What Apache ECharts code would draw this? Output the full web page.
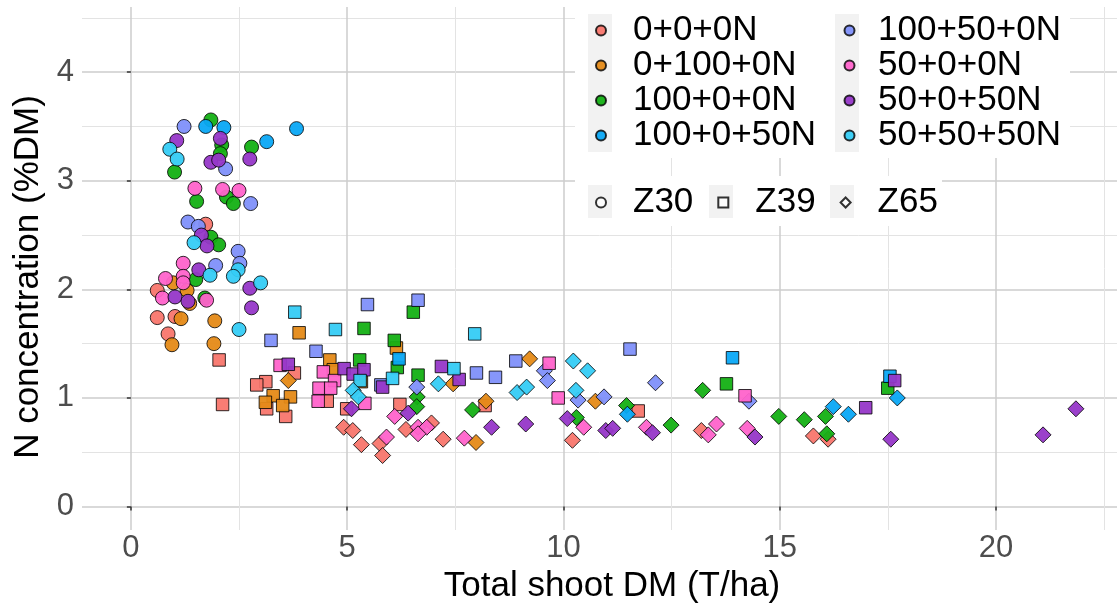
<!DOCTYPE html>
<html><head><meta charset="utf-8">
<script src="https://cdn.jsdelivr.net/npm/echarts@6/dist/echarts.min.js"></script>
<style>html,body{margin:0;padding:0;background:#fff}#c{width:1117px;height:609px}</style>
</head><body><div id="c"></div>
<script>
// ---------- data ----------
const groups = ['0+0+0N','0+100+0N','100+0+0N','100+0+50N','100+50+0N','50+0+0N','50+0+50N','50+50+50N'];
const stages = ['Z30','Z39','Z65'];
const xTicks = [0,5,10,15,20];
const xMinor = [2.5,7.5,12.5,17.5,22.5];
const yTicks = [0,1,2,3,4];
const yMinor = [0.5,1.5,2.5,3.5,4.5];

// 0+0+0N
const s1_z30 = [[1.73,2.60],[0.61,1.99],[0.61,1.74],[1.02,1.75],[0.86,1.59]];
const s1_z39 = [[2.04,1.35],[3.78,1.23],[3.12,1.15],[2.91,1.12],[3.14,0.90],[3.58,0.83],[2.12,0.94],[4.54,0.97],[4.99,0.90],[6.22,0.94],[8.19,0.93],[11.73,0.88]];
const s1_z65 = [[4.92,0.73],[5.13,0.70],[6.36,0.71],[6.95,0.77],[5.76,0.58],[5.33,0.57],[5.82,0.47],[7.22,0.62],[10.21,0.61],[13.19,0.70],[15.78,0.65],[16.12,0.62]];
// 0+100+0N
const s2_z30 = [[0.98,2.06],[1.30,1.99],[1.36,1.87],[1.16,1.73],[1.94,1.71],[0.95,1.49],[1.92,1.50]];
const s2_z39 = [[3.89,1.60],[6.14,1.46],[4.60,1.35],[4.68,1.26],[3.29,1.02],[3.69,1.01],[3.11,0.96],[3.51,0.93],[5.33,1.15]];
const s2_z65 = [[3.64,1.16],[7.45,1.13],[9.22,1.36],[8.21,0.97],[10.74,0.97],[7.98,0.59]];
// 100+0+0N
const s3_z30 = [[1.85,3.56],[2.10,3.33],[2.07,3.25],[1.01,3.08],[2.79,3.31],[1.52,2.81],[2.21,2.85],[2.37,2.79],[1.85,2.48],[2.03,2.41],[1.50,2.09],[1.71,1.92]];
const s3_z39 = [[6.53,1.79],[5.39,1.64],[6.09,1.53],[5.29,1.35],[6.16,1.28],[6.64,1.21],[13.77,1.13],[17.50,1.09]];
const s3_z65 = [[6.62,1.01],[6.61,0.92],[7.90,0.89],[10.30,0.82],[11.46,0.93],[12.49,0.75],[13.22,1.07],[14.98,0.83],[15.57,0.80],[16.06,0.83],[16.09,0.67]];
// 100+0+50N
const s4_z30 = [[1.73,3.50],[2.15,3.49],[3.14,3.36],[3.83,3.48]];
const s4_z39 = [[6.20,1.36],[13.91,1.37],[17.55,1.20]];
const s4_z65 = [[11.48,0.85],[16.24,0.92],[16.59,0.85],[17.72,1.00]];
// 100+50+0N
const s5_z30 = [[1.23,3.50],[2.19,3.11],[2.77,2.79],[1.32,2.62],[1.56,2.58],[2.48,2.35],[2.52,2.24],[1.96,2.22]];
const s5_z39 = [[5.47,1.86],[6.64,1.90],[3.24,1.53],[4.28,1.43],[7.99,1.23],[8.43,1.19],[8.90,1.34],[11.54,1.45],[5.78,1.12]];
const s5_z65 = [[6.61,1.10],[9.56,1.25],[9.63,1.16],[10.34,0.98],[10.94,1.01],[12.13,1.14],[14.29,0.97]];
// 50+0+0N
const s6_z30 = [[1.48,2.93],[2.12,2.92],[2.50,2.91],[1.21,2.24],[1.21,2.12],[1.21,2.06],[0.80,2.10],[0.73,1.92],[1.75,1.90]];
const s6_z39 = [[3.45,1.30],[4.45,1.24],[4.71,1.16],[4.35,1.09],[4.62,1.09],[4.33,0.97],[5.41,0.95],[9.67,1.32],[9.88,1.00],[14.20,1.02]];
const s6_z65 = [[6.10,0.83],[6.64,0.73],[6.84,0.73],[6.64,0.67],[5.91,0.64],[7.71,0.63],[10.47,0.73],[11.92,0.73],[13.35,0.66],[13.54,0.76],[14.25,0.72]];
// 50+0+50N
const s7_z30 = [[1.06,3.37],[2.07,3.39],[1.85,3.17],[2.03,3.19],[2.75,3.20],[1.63,2.50],[1.76,2.40],[1.57,2.18],[1.02,1.93],[1.32,1.89],[2.75,2.01],[2.79,1.83]];
const s7_z39 = [[7.18,1.29],[3.64,1.31],[4.93,1.27],[5.14,1.22],[5.39,1.26],[5.82,1.10],[7.59,1.17],[16.99,0.91],[17.66,1.16]];
const s7_z65 = [[5.10,0.90],[6.41,0.86],[8.34,0.73],[9.13,0.76],[10.09,0.81],[10.98,0.70],[11.14,0.72],[12.06,0.68],[14.43,0.64],[17.57,0.62],[21.09,0.66],[21.85,0.90]];
// 50+50+50N
const s8_z30 = [[0.90,3.29],[1.07,3.20],[1.46,2.43],[2.48,2.18],[2.37,2.12],[1.83,2.13],[3.00,2.06],[2.50,1.63]];
const s8_z39 = [[3.79,1.79],[4.73,1.63],[6.05,1.18],[7.95,1.59],[7.47,1.27],[5.30,1.16]];
const s8_z65 = [[7.11,1.13],[5.14,1.07],[5.26,1.01],[8.93,1.05],[9.15,1.10],[10.23,1.34],[10.56,1.25],[10.29,1.07]];

// ---------- styles ----------
const colors = ['#F8766D','#E58A17','#14B014','#0AA8F5','#8090FA','#FF63CB','#9637C8','#35CCF5'];
const groupData = [
  [s1_z30,s1_z39,s1_z65],[s2_z30,s2_z39,s2_z65],[s3_z30,s3_z39,s3_z65],[s4_z30,s4_z39,s4_z65],
  [s5_z30,s5_z39,s5_z65],[s6_z30,s6_z39,s6_z65],[s7_z30,s7_z39,s7_z65],[s8_z30,s8_z39,s8_z65]
];
const stageSymbol = ['circle','rect','diamond'];
const stageSize = [14, 12.5, 16];
const FONT = 'Liberation Sans, Arial, sans-serif';

const series = groups.map((g, gi) => ({
  type: 'scatter', name: g, xAxisIndex: 0, yAxisIndex: 0, z: 2,
  itemStyle: { color: colors[gi], borderColor: 'rgba(0,0,0,0.85)', borderWidth: 1, opacity: 0.95 },
  data: groupData[gi].flatMap((arr, si) => arr.map(p => ({ value: p, symbol: stageSymbol[si], symbolSize: stageSize[si] })))
}));
stages.forEach((s, si) => series.push({
  type: 'scatter', name: s, data: [], symbol: stageSymbol[si],
  itemStyle: { color: '#fff', borderColor: '#000', borderWidth: 1 }
}));

const legendText = (pad) => ({ fontSize: 35, fontFamily: FONT, color: '#000', lineHeight: 34, padding: [0,0,0,pad] });

const option = {
  animation: false,
  backgroundColor: '#fff',
  grid: { left: 82, right: 0, top: 7, bottom: 79, containLabel: false, outerBoundsMode: 'none' },
  xAxis: [
    { type: 'value', min: -1.13, max: 22.8, position: 'bottom',
      axisLine: { show: false }, axisLabel: { show: false },
      axisTick: { show: false, customValues: xMinor },
      splitLine: { show: true, lineStyle: { color: '#e3e3e3', width: 1 } } },
    { type: 'value', min: -1.13, max: 22.8, position: 'bottom',
      axisLine: { show: false },
      axisTick: { show: true, length: 4, lineStyle: { color: '#333', width: 1.5 }, customValues: xTicks },
      axisLabel: { show: true, customValues: xTicks, fontSize: 31, fontFamily: FONT, color: '#4d4d4d', margin: 3 },
      splitLine: { show: true, lineStyle: { color: '#cccccc', width: 1.5 } },
      name: 'Total shoot DM (T/ha)', nameLocation: 'middle', nameGap: 30,
      nameTextStyle: { fontSize: 35, fontFamily: FONT, color: '#000', padding: [0,0,0,25] } }
  ],
  yAxis: [
    { type: 'value', min: -0.216, max: 4.6, position: 'left',
      axisLine: { show: false }, axisLabel: { show: false },
      axisTick: { show: false, customValues: yMinor },
      splitLine: { show: true, lineStyle: { color: '#e3e3e3', width: 1 } } },
    { type: 'value', min: -0.216, max: 4.6, position: 'left',
      axisLine: { show: false },
      axisTick: { show: true, length: 4, lineStyle: { color: '#333', width: 1.5 }, customValues: yTicks },
      axisLabel: { show: true, customValues: yTicks, fontSize: 31, fontFamily: FONT, color: '#4d4d4d', margin: 8 },
      splitLine: { show: true, lineStyle: { color: '#cccccc', width: 1.5 } },
      name: 'N concentration (%DM)', nameLocation: 'middle', nameGap: 30,
      nameTextStyle: { fontSize: 35, fontFamily: FONT, color: '#000', padding: [0,17,0,0] } }
  ],
  legend: [
    { data: groups.slice(0,4), orient: 'vertical', left: 595, top: 13, padding: 0, itemGap: 0,
      itemWidth: 10, itemHeight: 10, icon: 'circle', selectedMode: false, z: 5, textStyle: legendText(22) },
    { data: groups.slice(4), orient: 'vertical', left: 843.5, top: 13, padding: 0, itemGap: 0,
      itemWidth: 10, itemHeight: 10, icon: 'circle', selectedMode: false, z: 5, textStyle: legendText(18.5) },
    { data: [{name:'Z30', icon:'circle'},{name:'Z39', icon:'rect'},{name:'Z65', icon:'diamond'}],
      orient: 'horizontal', left: 595, top: 185, padding: 0, itemGap: 24,
      itemWidth: 10, itemHeight: 10, selectedMode: false, z: 5, textStyle: legendText(22) }
  ],
  graphic: { elements: [
    { type: 'rect', silent: true, z: 3, shape: { x: 575, y: 0, width: 495, height: 158 }, style: { fill: '#fff' } },
    { type: 'rect', silent: true, z: 3, shape: { x: 575, y: 176, width: 367, height: 50 }, style: { fill: '#fff' } },
    { type: 'rect', silent: true, z: 3, shape: { x: 588, y: 14, width: 24, height: 138 }, style: { fill: '#f2f2f2' } },
    { type: 'rect', silent: true, z: 3, shape: { x: 835, y: 14, width: 24, height: 138 }, style: { fill: '#f2f2f2' } },
    { type: 'rect', silent: true, z: 3, shape: { x: 588, y: 185, width: 24, height: 33 }, style: { fill: '#f2f2f2' } },
    { type: 'rect', silent: true, z: 3, shape: { x: 709, y: 185, width: 24, height: 33 }, style: { fill: '#f2f2f2' } },
    { type: 'rect', silent: true, z: 3, shape: { x: 830, y: 185, width: 24, height: 33 }, style: { fill: '#f2f2f2' } }
  ] },
  series: series
};
const chart = echarts.init(document.getElementById('c'), null, { renderer: 'canvas' });
chart.setOption(option);
</script>
</body></html>
